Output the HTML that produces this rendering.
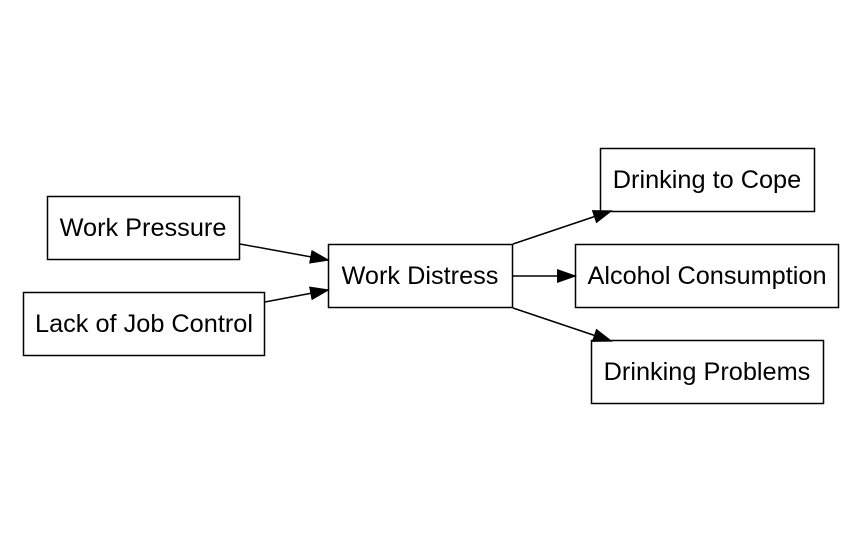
<!DOCTYPE html>
<html><head><style>
html,body{margin:0;padding:0;background:#fff;}
svg text{font-family:"Liberation Sans",Arial,sans-serif;font-size:25.3px;fill:#000;}
</style></head><body>
<svg width="859" height="550" viewBox="0 0 859 550" xmlns="http://www.w3.org/2000/svg">
<defs>
<marker id="a" markerWidth="20" markerHeight="14" refX="18" refY="7" orient="auto" markerUnits="userSpaceOnUse">
<path d="M0,0 L20,7 L0,14 Z" fill="#000"/>
</marker>
</defs>
<g fill="none" stroke="#000" stroke-width="1.5">
<rect x="47.5" y="196.5" width="192" height="63"/>
<rect x="23.5" y="292.5" width="241" height="63"/>
<rect x="328.5" y="244.5" width="184" height="63"/>
<rect x="600.5" y="148.5" width="214" height="63"/>
<rect x="575.5" y="244.5" width="263" height="63"/>
<rect x="591.5" y="340.5" width="232" height="63"/>
<line x1="240" y1="244" x2="328" y2="260" marker-end="url(#a)"/>
<line x1="265" y1="302" x2="328" y2="290" marker-end="url(#a)"/>
<line x1="513" y1="244" x2="611" y2="211" marker-end="url(#a)"/>
<line x1="513" y1="276" x2="575" y2="276" marker-end="url(#a)"/>
<line x1="513" y1="308" x2="611" y2="341" marker-end="url(#a)"/>
</g>
<g text-anchor="middle">
<text x="143" y="236">Work Pressure</text>
<text x="144" y="332">Lack of Job Control</text>
<text x="420" y="284">Work Distress</text>
<text x="707" y="188">Drinking to Cope</text>
<text x="707" y="284">Alcohol Consumption</text>
<text x="707" y="380">Drinking Problems</text>
</g>
</svg>
</body></html>
